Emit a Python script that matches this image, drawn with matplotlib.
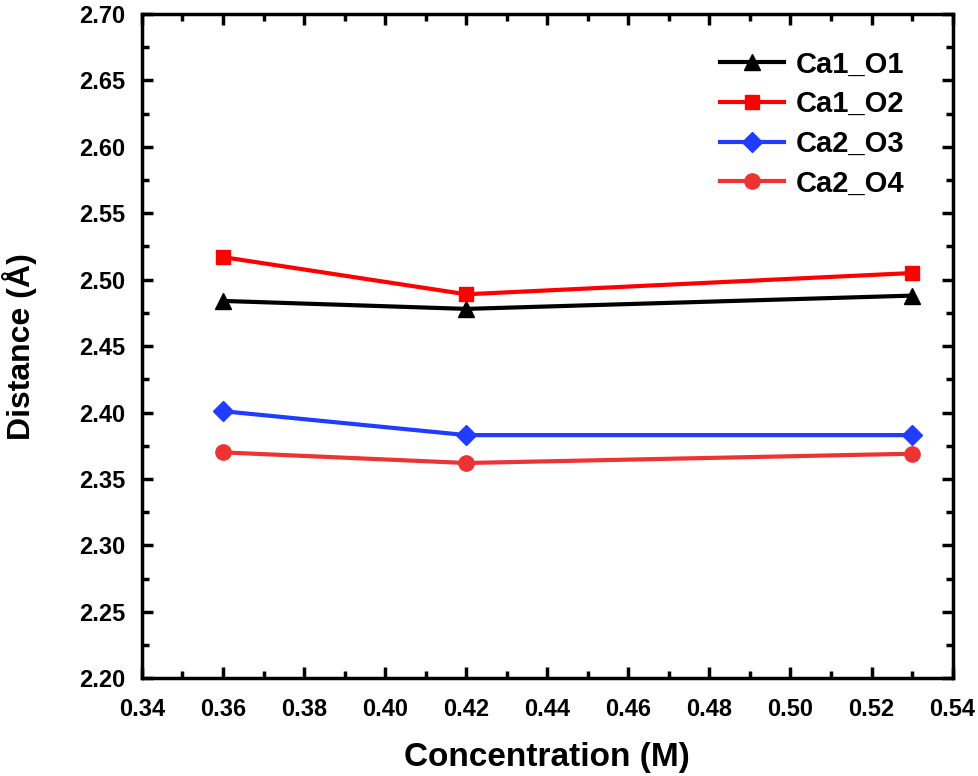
import matplotlib
matplotlib.use("Agg")
from matplotlib import pyplot as plt
from matplotlib.ticker import MultipleLocator

conc = [0.36, 0.42, 0.53]
ca1_o1 = [2.484, 2.478, 2.488]
ca1_o2 = [2.517, 2.489, 2.505]
ca2_o3 = [2.401, 2.383, 2.383]
ca2_o4 = [2.370, 2.362, 2.369]

plt.rcParams['font.family'] = ['Liberation Sans', 'DejaVu Sans']
plt.rcParams['font.weight'] = 'bold'

fig = plt.figure(figsize=(9.79, 7.76), dpi=100)
ax = fig.add_axes([0.145, 0.126, 0.828, 0.856])

ax.plot(conc, ca1_o1, '-^', color='black', lw=3, ms=11, label='Ca1_O1')
ax.plot(conc, ca1_o2, '-s', color='#ff0000', lw=3, ms=10, label='Ca1_O2')
ax.plot(conc, ca2_o3, '-D', color='#1f3cff', lw=3, ms=10, label='Ca2_O3')
ax.plot(conc, ca2_o4, '-o', color='#ee3333', lw=3, ms=11, label='Ca2_O4')

ax.set_xlim(0.34, 0.54)
ax.set_ylim(2.20, 2.70)
ax.xaxis.set_major_locator(MultipleLocator(0.02))
ax.xaxis.set_minor_locator(MultipleLocator(0.01))
ax.yaxis.set_major_locator(MultipleLocator(0.05))
ax.yaxis.set_minor_locator(MultipleLocator(0.025))
ax.xaxis.set_major_formatter(lambda v, p: f"{v:.2f}")
ax.yaxis.set_major_formatter(lambda v, p: f"{v:.2f}")

for s in ax.spines.values():
    s.set_linewidth(2.5)
ax.tick_params(which='both', direction='in', top=True, right=True, width=2.5)
ax.tick_params(which='major', length=8, labelsize=17)
ax.tick_params(which='minor', length=5)
ax.tick_params(axis='x', which='major', pad=14)
ax.tick_params(axis='y', which='major', pad=12)

ax.set_xlabel('Concentration (M)', fontsize=24, fontweight='bold', labelpad=15)
ax.set_ylabel('Distance (Å)', fontsize=23, fontweight='bold', labelpad=30)

ax.legend(loc='upper right', bbox_to_anchor=(0.986, 1.0), frameon=False,
          fontsize=21, handlelength=2.2, borderaxespad=0.85,
          labelspacing=0.4, handletextpad=0.4)

fig.savefig('out.png', dpi=100)
